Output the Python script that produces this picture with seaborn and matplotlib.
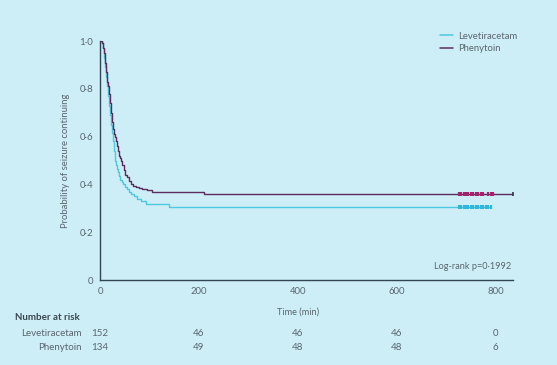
import numpy as np
import pandas as pd
import matplotlib
matplotlib.use("Agg")
import matplotlib.pyplot as plt
import seaborn as sns
from matplotlib.lines import Line2D

# ---- data ----
groups = ["Levetiracetam", "Phenytoin"]
leve_t = [0, 4, 6, 8, 9, 10, 11, 12, 13, 14, 15, 16, 17, 18, 19, 20, 21, 22, 23, 24, 25, 26,
          27, 28, 29, 30, 31, 33, 35, 37, 39, 41, 44, 47, 50, 54, 58, 63, 68, 75, 82, 92, 140, 790]
leve_s = [1.0, 0.99, 0.97, 0.95, 0.93, 0.91, 0.89, 0.87, 0.85, 0.83, 0.81, 0.79, 0.77, 0.75, 0.73, 0.71, 0.69, 0.67, 0.65, 0.63, 0.615, 0.60,
          0.58, 0.56, 0.54, 0.52, 0.50, 0.48, 0.465, 0.45, 0.435, 0.42, 0.41, 0.40, 0.39, 0.38, 0.37, 0.36, 0.35, 0.34, 0.33, 0.32, 0.305, 0.305]
phen_t = [0, 5, 7, 9, 10, 11, 12, 13, 14, 15, 16, 17, 18, 19, 20, 21, 22, 23, 24, 25, 26, 27, 28, 29, 30,
          32, 34, 36, 38, 40, 42, 45, 48, 51, 54, 58, 62, 67, 72, 78, 85, 95, 105, 210, 835]
phen_s = [1.0, 0.99, 0.97, 0.95, 0.93, 0.91, 0.89, 0.87, 0.85, 0.83, 0.82, 0.81, 0.80, 0.78, 0.76, 0.74, 0.72, 0.70, 0.68, 0.66, 0.645, 0.63, 0.62, 0.61, 0.60,
          0.58, 0.56, 0.54, 0.52, 0.51, 0.50, 0.48, 0.46, 0.44, 0.43, 0.415, 0.40, 0.395, 0.39, 0.385, 0.38, 0.375, 0.37, 0.36, 0.36]
leve_censor = [725, 730, 735, 740, 745, 750, 755, 760, 765, 770, 775, 780, 785, 790]
phen_censor = [725, 730, 735, 740, 745, 750, 755, 760, 765, 770, 775, 785, 790, 795]
phen_last_censor = [835]
risk_times = [0, 200, 400, 600, 800]
risk_leve = [152, 46, 46, 46, 0]
risk_phen = [134, 49, 48, 48, 6]
x_ticks = [0, 200, 400, 600, 800]
y_ticks = [0, 0.2, 0.4, 0.6, 0.8, 1.0]
y_tick_labels = ["0", "0·2", "0·4", "0·6", "0·8", "1·0"]
p_text = "Log-rank p=0·1992"

bg = "#cdeef6"
txt = "#5a6670"
colors = {"Levetiracetam": "#4cc9dc", "Phenytoin": "#5b2d5e"}
censor_colors = {"Levetiracetam": "#2fb6dd", "Phenytoin": "#a3226b"}

sns.set_theme(style="white")
plt.rcParams['font.family'] = ['Lato', 'DejaVu Sans']

df = pd.concat([
    pd.DataFrame({"time": leve_t, "surv": leve_s, "group": "Levetiracetam"}),
    pd.DataFrame({"time": phen_t, "surv": phen_s, "group": "Phenytoin"}),
])

fig = plt.figure(figsize=(5.57, 3.65), dpi=100, facecolor=bg)
ax = fig.add_axes([100/557, 85/365, 413/557, 239/365])
ax.set_facecolor(bg)

sns.lineplot(data=df, x="time", y="surv", hue="group", palette=colors,
             drawstyle="steps-post", linewidth=1.0, ax=ax, legend=False,
             estimator=None, sort=False)

# censor marks
for g, ct, s_arr in [("Levetiracetam", leve_censor, leve_s),
                     ("Phenytoin", phen_censor, phen_s)]:
    ax.plot(ct, [s_arr[-1]] * len(ct), linestyle="none", marker="|", markersize=3,
            mew=1.6, color=censor_colors[g], clip_on=False)
ax.plot(phen_last_censor, [phen_s[-1]] * len(phen_last_censor), marker="|", markersize=3,
        mew=1.2, color="#333344", clip_on=False, linestyle="none")

ax.set_xlim(0, 835)
ax.set_ylim(0, 1.0)
ax.set_xticks(x_ticks)
ax.set_xticklabels([str(v) for v in x_ticks], fontsize=6.8, color=txt)
ax.set_yticks(y_ticks)
ax.set_yticklabels(y_tick_labels, fontsize=7, color=txt)
ax.tick_params(axis="both", direction="out", length=3, width=0.8, color="#334455", pad=2)
for s in ["top", "right"]:
    ax.spines[s].set_visible(False)
for s in ["left", "bottom"]:
    ax.spines[s].set_color("#334455")
    ax.spines[s].set_linewidth(1.0)

ax.set_ylabel("Probability of seizure continuing", fontsize=6.8, color=txt, labelpad=7)
ax.set_xlabel("")
fig.text(298/557, 1 - 312/365, "Time (min)", fontsize=6.6, color=txt, ha="center", va="center")

# legend
handles = [Line2D([0], [0], color=colors[g], lw=1.1) for g in groups]
leg = ax.legend(handles, groups, loc="upper right", bbox_to_anchor=(1.03, 1.075),
                frameon=False, fontsize=6.8, handlelength=1.4, handletextpad=0.5,
                labelspacing=0.35)
for t in leg.get_texts():
    t.set_color(txt)

ax.text(0.995, 0.055, p_text, transform=ax.transAxes, ha="right", va="center",
        fontsize=6.6, color=txt)

# number at risk table
fig.text(15/557, 1 - 317/365, "Number at risk", fontsize=7, fontweight="bold",
         color="#3a4650", ha="left", va="center")
for yrow, lab, vals in [(333.5, "Levetiracetam", risk_leve), (347, "Phenytoin", risk_phen)]:
    fig.text(82/557, 1 - yrow/365, lab, fontsize=7, color=txt, ha="right", va="center")
    for t, v in zip(risk_times, vals):
        xfig = (100 + t * 413/835) / 557
        fig.text(xfig, 1 - yrow/365, str(v), fontsize=7, color=txt, ha="center", va="center")

fig.savefig("out.png", dpi=100, facecolor=bg)
